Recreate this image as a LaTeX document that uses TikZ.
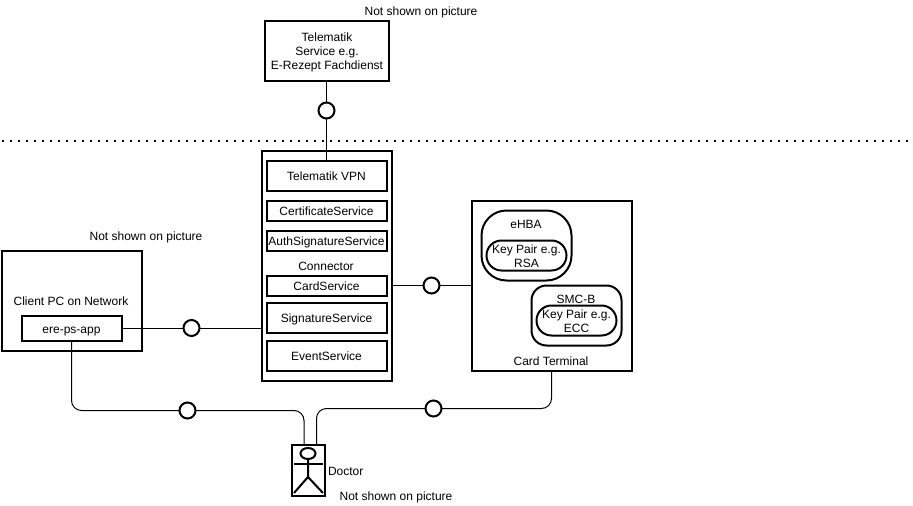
\documentclass[tikz,border=0pt]{standalone}
\usepackage{fontspec}
\setmainfont{Liberation Sans}
\usetikzlibrary{shapes.geometric}
\newcommand{\liftText}{\rule{0pt}{13pt}}
\newcommand{\liftKey}{\rule{0pt}{11pt}}
\tikzset{box/.style = {draw, rectangle, line width=2pt, inner sep=0pt, outer sep=0pt, align=center}}
\tikzset{onebox/.style = {box, text height=9pt, text depth=0pt}}
\tikzset{pill/.style = {box, rounded corners=#1}}
\tikzset{lolli/.style = {draw, circle, line width=2pt, fill=white, inner sep=0pt, outer sep=0pt, minimum size=16pt}}
\tikzset{lbl/.style = {inner sep=0pt, outer sep=0pt, align=center, text depth=-2pt}}
\tikzset{conn/.style = {line width=1pt}}

\begin{document}
\begin{tikzpicture}[x=1pt, y=-1pt, font=\fontsize{12}{14}\selectfont]
	\useasboundingbox (0,0) rectangle (913,506);

	\draw[line width=2pt, dash pattern=on 2pt off 6pt]	(1.5,140.5) -- (913,140.5);

	% top service
	\node[box, minimum width=124, minimum height=60] (telematikService) at (327,50.5) {\liftText Telematik\\Service e.g.\\E-Rezept Fachdienst};
	\node[lbl] (noteTop) at (421,11) {Not shown on picture};

	% connector
	\node[box, minimum width=130, minimum height=230] (connector) at (326.5,265.5) {};
	\node[onebox, minimum width=120, minimum height=30] (vpn) at (326.5,175.5) {Telematik VPN};
	\node[onebox, minimum width=120, minimum height=20] (certService) at (326.5,210.5) {CertificateService};
	\node[onebox, minimum width=120, minimum height=20] (authService) at (326.5,240.5) {AuthSignatureService};
	\node[lbl] (connectorText) at (326,266) {Connector};
	\node[onebox, minimum width=120, minimum height=20] (cardService) at (326.5,285.5) {CardService};
	\node[onebox, minimum width=120, minimum height=30] (sigService) at (326.5,317.5) {SignatureService};
	\node[onebox, minimum width=120, minimum height=30] (eventService) at (326.5,355.5) {EventService};

	% card terminal
	\node[box, minimum width=160, minimum height=170] (terminal) at (551.5,285.5) {};
	\node[lbl] (terminalText) at (551,361) {Card Terminal};
	\node[pill=25pt, minimum width=90, minimum height=70] (ehba) at (526.5,245.5) {};
	\node[lbl] (ehbaText) at (526,224) {eHBA};
	\node[pill=15pt, minimum width=80, minimum height=30] (keyRsa) at (526.5,255.5) {\liftKey Key Pair e.g.\\RSA};
	\node[pill=15pt, minimum width=90, minimum height=60] (smcb) at (576.5,315.5) {};
	\node[lbl] (smcbText) at (576,299) {SMC-B};
	\node[pill=15pt, minimum width=80, minimum height=30] (keyEcc) at (576.5,320.5) {\liftKey Key Pair e.g.\\ECC};

	% client
	\node[box, minimum width=140, minimum height=100] (clientPc) at (71.5,300.5) {};
	\node[lbl] (clientText) at (71,301) {Client PC on Network};
	\node[onebox, text height=10pt, minimum width=100, minimum height=25] (erePsApp) at (71.5,328) {ere-ps-app};
	\node[lbl] (noteClient) at (146,236) {Not shown on picture};

	% doctor
	\node[box, minimum width=33, minimum height=51] (doctor) at (308,470) {};
	\node[draw, ellipse, line width=2pt, inner sep=0pt, outer sep=0pt, minimum width=15, minimum height=11] (head) at (308,453.5) {};
	\coordinate (hip) at (308,477);
	\draw[line width=2pt]	(head.south) -- (hip) -- (294,493);
	\draw[line width=2pt]	(hip) -- (323,493);
	\draw[line width=2pt]	(294,464) -- (323,464);
	\node[lbl, anchor=west] (doctorText) at (328,471) {Doctor};
	\node[lbl] (noteDoctor) at (396,496) {Not shown on picture};
	\coordinate (doctorLeft) at (304,445);
	\coordinate (doctorRight) at (316.5,445);

	% lollipops
	\node[lolli] (lolliTop) at (326.5,110.5) {};
	\node[lolli] (lolliCard) at (431.5,285.5) {};
	\node[lolli] (lolliClient) at (191.5,328) {};
	\node[lolli] (lolliApp) at (187.5,410.5) {};
	\node[lolli] (lolliTerminal) at (433.5,408.5) {};

	\draw[conn]	(telematikService.south -| lolliTop) -- (lolliTop) -- (vpn);
	\draw[conn]	(connector.east |- lolliCard) -- (lolliCard) -- (terminal.west |- lolliCard);
	\draw[conn]	(erePsApp.east |- lolliClient) -- (lolliClient) -- (connector.west |- lolliClient);
	\draw[conn, rounded corners=10pt]	(erePsApp.south) |- (lolliApp);
	\draw[conn, rounded corners=10pt]	(lolliApp) -| (doctorLeft);
	\draw[conn, rounded corners=10pt]	(terminal.south) |- (lolliTerminal);
	\draw[conn, rounded corners=10pt]	(lolliTerminal) -| (doctorRight);
\end{tikzpicture}
\end{document}
